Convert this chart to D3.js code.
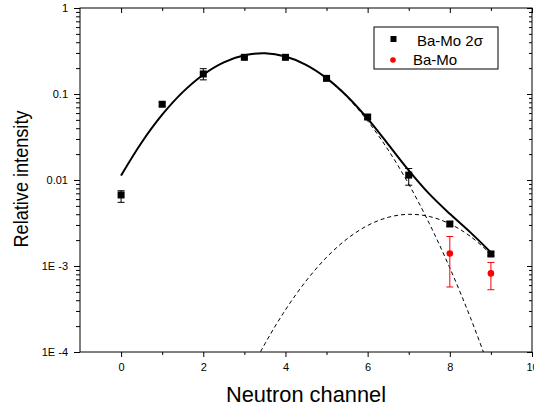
<!DOCTYPE html>
<html>
<head>
<meta charset="utf-8">
<script src="https://cdn.jsdelivr.net/npm/d3@7"></script>
<style>
  body { margin: 0; background: #fff; }
  svg { display: block; }
  text { font-family: "Liberation Sans", Arial, sans-serif; fill: #000; }
</style>
</head>
<body>
<svg id="chart" width="534" height="410"></svg>
<script>
// Measured relative intensities per neutron channel
const channels = [0, 1, 2, 3, 4, 5, 6, 7, 8, 9];
const baMo2s = [0.0067, 0.076, 0.171, 0.267, 0.267, 0.152, 0.054, 0.0114, 0.00308, 0.00138];
const baMo2sLow = [0.0055, 0.072, 0.146, 0.259, 0.259, 0.147, 0.051, 0.0087, 0.0029, 0.00131];
const baMo2sHigh = [0.0075, 0.080, 0.197, 0.275, 0.275, 0.157, 0.057, 0.0136, 0.00326, 0.00145];

const baMoChannels = [8, 9];
const baMo = [0.0014, 0.00082];
const baMoLow = [0.00057, 0.00053];
const baMoHigh = [0.0022, 0.0011];

// Fit curves: total and the two components
const fitX = [0, 0.5, 1, 1.5, 2, 2.5, 3, 3.5, 4, 4.5, 5, 5.5, 6, 6.5, 7, 7.5, 8, 8.5, 9];
const fitTotal = [0.0113, 0.0273, 0.0574, 0.1051, 0.1676, 0.2328, 0.2817, 0.2970, 0.2728, 0.2186,
                  0.1530, 0.0941, 0.0516, 0.0260, 0.01295, 0.00689, 0.00404, 0.00246, 0.00144];
const fitPeak1 = [0.0113, 0.0273, 0.0574, 0.1051, 0.1676, 0.2328, 0.2817, 0.2969, 0.2725, 0.2179,
                  0.1517, 0.0920, 0.0486, 0.02236, 0.00896, 0.00313, 0.00095, 0.000252, 0.000058];
const fitPeak2X = [2.5, 3, 3.5, 4, 4.5, 5, 5.5, 6, 6.5, 7, 7.5, 8, 8.5, 9];
const fitPeak2 = [0.0000133, 0.0000436, 0.0001245, 0.000309, 0.000669, 0.001261, 0.002069, 0.002958,
                  0.003681, 0.003989, 0.003764, 0.003093, 0.002212, 0.001378];

const xTicks = [0, 2, 4, 6, 8, 10];
const xMinorTicks = [1, 3, 5, 7, 9];
const yTicks = [1, 0.1, 0.01, 0.001, 0.0001];
const yTickLabels = ["1", "0.1", "0.01", "1E -3", "1E -4"];

const svg = d3.select("#chart");
const plotLeft = 80, plotRight = 532, plotTop = 8, plotBottom = 352;

const x = d3.scaleLinear().domain([-1, 10]).range([plotLeft, plotRight]);
const y = d3.scaleLog().domain([1e-4, 1]).range([plotBottom, plotTop]);
const yMinor = y.ticks().filter(v => !yTicks.some(t => Math.abs(t - v) / t < 1e-9));

svg.append("defs").append("clipPath").attr("id", "plot")
  .append("rect").attr("x", plotLeft).attr("y", plotTop)
  .attr("width", plotRight - plotLeft).attr("height", plotBottom - plotTop);

// Axes
function styleAxis(g) {
  g.select(".domain").remove();
  g.selectAll("line").attr("stroke", "#000").attr("stroke-width", 1);
  g.selectAll("text").attr("font-size", 11).attr("font-family", "'Liberation Sans', Arial, sans-serif");
}

svg.append("g").attr("transform", `translate(0,${plotBottom})`)
  .call(d3.axisBottom(x).tickValues(xTicks).tickSize(5).tickPadding(6).tickFormat(d3.format("d")))
  .call(styleAxis);
svg.append("g").attr("transform", `translate(0,${plotBottom})`)
  .call(d3.axisBottom(x).tickValues(xMinorTicks).tickSize(3).tickFormat(""))
  .call(styleAxis);
svg.append("g").attr("transform", `translate(0,${plotTop})`)
  .call(d3.axisBottom(x).tickValues(xTicks).tickSize(5).tickFormat(""))
  .call(styleAxis);
svg.append("g").attr("transform", `translate(0,${plotTop})`)
  .call(d3.axisBottom(x).tickValues(xMinorTicks).tickSize(3).tickFormat(""))
  .call(styleAxis);

svg.append("g").attr("transform", `translate(${plotLeft},0)`)
  .call(d3.axisLeft(y).tickValues(yTicks).tickSize(6).tickPadding(6)
    .tickFormat((d, i) => yTickLabels[i]))
  .call(styleAxis);
svg.append("g").attr("transform", `translate(${plotLeft},0)`)
  .call(d3.axisLeft(y).tickValues(yMinor).tickSize(4).tickFormat(""))
  .call(styleAxis);
svg.append("g").attr("transform", `translate(${plotRight},0)`)
  .call(d3.axisLeft(y).tickValues(yTicks).tickSize(5).tickFormat(""))
  .call(styleAxis);
svg.append("g").attr("transform", `translate(${plotRight},0)`)
  .call(d3.axisLeft(y).tickValues(yMinor).tickSize(3).tickFormat(""))
  .call(styleAxis);

// Frame
svg.append("rect").attr("x", plotLeft).attr("y", plotTop)
  .attr("width", plotRight - plotLeft).attr("height", plotBottom - plotTop)
  .attr("fill", "none").attr("stroke", "#000").attr("stroke-width", 1);

// Curves
const plot = svg.append("g").attr("clip-path", "url(#plot)");
const line = d3.line().x(d => x(d[0])).y(d => y(d[1])).curve(d3.curveCatmullRom);

plot.append("path").datum(d3.zip(fitX, fitPeak1)).attr("d", line)
  .attr("fill", "none").attr("stroke", "#000").attr("stroke-width", 1)
  .attr("stroke-dasharray", "4,3");
plot.append("path").datum(d3.zip(fitPeak2X, fitPeak2)).attr("d", line)
  .attr("fill", "none").attr("stroke", "#000").attr("stroke-width", 1)
  .attr("stroke-dasharray", "4,3");
plot.append("path").datum(d3.zip(fitX, fitTotal)).attr("d", line)
  .attr("fill", "none").attr("stroke", "#000").attr("stroke-width", 2);

// Error bars
function errorBars(xs, lo, hi, color) {
  const g = plot.append("g").attr("stroke", color).attr("stroke-width", 1);
  xs.forEach((c, i) => {
    const cx = x(c);
    g.append("line").attr("x1", cx).attr("x2", cx).attr("y1", y(lo[i])).attr("y2", y(hi[i]));
    g.append("line").attr("x1", cx - 3.5).attr("x2", cx + 3.5).attr("y1", y(lo[i])).attr("y2", y(lo[i]));
    g.append("line").attr("x1", cx - 3.5).attr("x2", cx + 3.5).attr("y1", y(hi[i])).attr("y2", y(hi[i]));
  });
}
errorBars(channels, baMo2sLow, baMo2sHigh, "#000");
errorBars(baMoChannels, baMoLow, baMoHigh, "#ff0000");

// Markers
plot.append("g").selectAll("rect").data(channels).join("rect")
  .attr("x", (d) => x(d) - 3.5).attr("y", (d, i) => y(baMo2s[i]) - 3.5)
  .attr("width", 7).attr("height", 7).attr("fill", "#000");
plot.append("g").selectAll("circle").data(baMoChannels).join("circle")
  .attr("cx", d => x(d)).attr("cy", (d, i) => y(baMo[i])).attr("r", 3.3)
  .attr("fill", "#ff0000");

// Legend
const lg = svg.append("g");
lg.append("rect").attr("x", 374).attr("y", 27).attr("width", 124).attr("height", 42)
  .attr("fill", "#fff").attr("stroke", "#000").attr("stroke-width", 1);
lg.append("rect").attr("x", 390.5).attr("y", 36).attr("width", 6).attr("height", 6).attr("fill", "#000");
lg.append("text").attr("x", 417).attr("y", 45.5).attr("font-size", 15).text("Ba-Mo 2σ");
lg.append("circle").attr("cx", 393).attr("cy", 60).attr("r", 2.8).attr("fill", "#ff0000");
lg.append("text").attr("x", 413).attr("y", 64.5).attr("font-size", 15).text("Ba-Mo");

// Axis titles
svg.append("text").attr("x", (plotLeft + plotRight) / 2).attr("y", 402)
  .attr("text-anchor", "middle").attr("font-size", 22)
  .attr("textLength", 160).attr("lengthAdjust", "spacingAndGlyphs")
  .text("Neutron channel");
svg.append("text")
  .attr("transform", `translate(28,${(plotTop + plotBottom) / 2 - 1}) rotate(-90)`)
  .attr("text-anchor", "middle").attr("font-size", 21)
  .attr("textLength", 137).attr("lengthAdjust", "spacingAndGlyphs")
  .text("Relative intensity");
</script>
</body>
</html>
